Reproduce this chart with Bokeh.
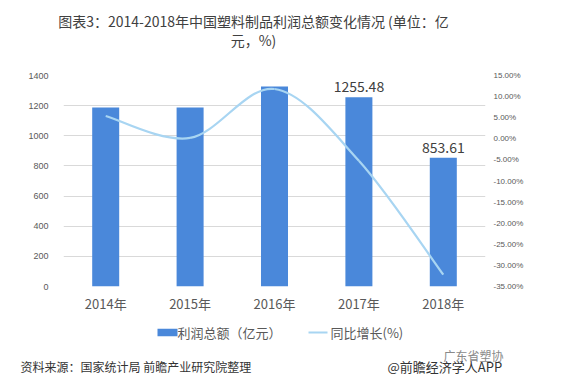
from bokeh.plotting import figure
from bokeh.layouts import column
from bokeh.models import Range1d, LinearAxis, FixedTicker, PrintfTickFormatter, ColumnDataSource
from bokeh.core.properties import value
from bokeh.embed import file_html
from bokeh.resources import INLINE

years = ["2014年", "2015年", "2016年", "2017年", "2018年"]
profit = [1188, 1187, 1327, 1255.48, 853.61]
growth = [5.4, 0.2, 11.8, -5.2, -32.2]
bar_labels = ["", "", "", "1255.48", "853.61"]
left_ticks = [0, 200, 400, 600, 800, 1000, 1200, 1400]
right_ticks = [15, 10, 5, 0, -5, -10, -15, -20, -25, -30, -35]
title_lines = ["图表3：2014-2018年中国塑料制品利润总额变化情况 (单位：亿", "元，%)"]
legend_labels = ["利润总额（亿元）", "同比增长(%)"]
source_text = "资料来源：国家统计局 前瞻产业研究院整理"
credit_text = "@前瞻经济学人APP"
mark_text = "广东省塑协"

FONT = "Noto Sans CJK SC"
BAR = "#4a88da"
LINE = "#a8d5f2"
W = 572


def no_align(f):
    try:
        f.frame_align = False
    except Exception:
        pass


def blank(h):
    f = figure(width=W, height=h, output_backend="svg", toolbar_location=None,
               x_range=Range1d(0, W), y_range=Range1d(0, h),
               min_border=0, min_border_left=0, min_border_right=0,
               min_border_top=0, min_border_bottom=0)
    f.axis.visible = False
    f.grid.visible = False
    f.outline_line_color = None
    f.background_fill_color = "white"
    f.border_fill_color = "white"
    no_align(f)
    return f


# ---- title ----
top = blank(68)
top.text(x=[253, 253], y=[47.3, 28.7], text=title_lines, text_align="center",
         text_baseline="middle", text_font=value(FONT), text_font_size="14px",
         text_color="#404040")

# ---- main chart ----
xs = [i + 0.5 for i in range(len(years))]
p = figure(width=W, height=250, output_backend="svg", toolbar_location=None,
           x_range=Range1d(0, len(years)), y_range=Range1d(0, 1400),
           min_border_left=63, min_border_right=87, min_border_top=7, min_border_bottom=32)
no_align(p)
p.outline_line_color = None
p.background_fill_color = "white"
p.border_fill_color = "white"
p.extra_y_ranges = {"pct": Range1d(-35, 15)}

p.xgrid.visible = False
p.ygrid.ticker = FixedTicker(ticks=left_ticks)
p.ygrid.grid_line_color = "#d9d9d9"

for ax in p.xaxis:
    ax.ticker = FixedTicker(ticks=xs)
    ax.major_label_overrides = {x: y for x, y in zip(xs, years)}
    ax.axis_line_color = None
    ax.major_tick_line_color = None
    ax.minor_tick_line_color = None
    ax.major_label_text_font = FONT
    ax.major_label_text_font_size = "13px"
    ax.major_label_text_color = "#595959"
    ax.major_label_standoff = 1

for ax in p.yaxis:
    ax.ticker = FixedTicker(ticks=left_ticks)
    ax.axis_line_color = None
    ax.major_tick_line_color = None
    ax.minor_tick_line_color = None
    ax.major_label_text_font = "Liberation Sans"
    ax.major_label_text_font_size = "9px"
    ax.major_label_text_color = "#595959"
    ax.major_label_standoff = 9

rax = LinearAxis(y_range_name="pct", ticker=FixedTicker(ticks=right_ticks),
                 formatter=PrintfTickFormatter(format="%.2f%%"))
rax.axis_line_color = None
rax.major_tick_line_color = None
rax.minor_tick_line_color = None
rax.major_label_text_font = "Liberation Sans"
rax.major_label_text_font_size = "8px"
rax.major_label_text_color = "#595959"
rax.major_label_standoff = 2
p.add_layout(rax, "right")

p.vbar(x=xs, top=profit, width=0.32, fill_color=BAR, line_color=None)

# smooth line (Catmull-Rom -> cubic Bezier control points)
n = len(xs)
x0, y0, x1, y1, cx0, cy0, cx1, cy1 = [], [], [], [], [], [], [], []
for i in range(n - 1):
    pm = max(i - 1, 0)
    pp = min(i + 2, n - 1)
    x0.append(xs[i]); y0.append(growth[i])
    x1.append(xs[i + 1]); y1.append(growth[i + 1])
    cx0.append(xs[i] + (xs[i + 1] - xs[pm]) / 6)
    cy0.append(growth[i] + (growth[i + 1] - growth[pm]) / 6)
    cx1.append(xs[i + 1] - (xs[pp] - xs[i]) / 6)
    cy1.append(growth[i + 1] - (growth[pp] - growth[i]) / 6)
p.bezier(x0=x0, y0=y0, x1=x1, y1=y1, cx0=cx0, cy0=cy0, cx1=cx1, cy1=cy1,
         line_color=LINE, line_width=2.2, y_range_name="pct")

lab_src = ColumnDataSource(dict(x=xs, y=profit, t=bar_labels))
p.text(x="x", y="y", text="t", source=lab_src, text_align="center", text_baseline="bottom",
       y_offset=-5, text_font=value(FONT), text_font_size="14px", text_color="#404040")

# ---- footer: legend + source ----
foot = blank(64)
foot.quad(left=[157], right=[177], bottom=[46.3], top=[53.7], fill_color=BAR, line_color=None)
foot.segment(x0=[308], y0=[50], x1=[327], y1=[50], line_color=LINE, line_width=2)
foot.text(x=[177, 330], y=[50, 50], text=legend_labels, text_align="left",
          text_baseline="middle", text_font=value(FONT), text_font_size="13px",
          text_color="#595959")
foot.text(x=[20], y=[16], text=[source_text], text_align="left", text_baseline="middle",
          text_font=value(FONT), text_font_size="12px", text_color="#333333")
foot.text(x=[443], y=[27], text=[mark_text], text_align="left", text_baseline="middle",
          text_font=value(FONT), text_font_size="12px", text_color="#8a8a8a")
foot.text(x=[387], y=[16], text=[credit_text], text_align="left", text_baseline="middle",
          text_font=value(FONT), text_font_size="13px", text_color="#333333")

layout = column(top, p, foot, spacing=0)
open("out.html", "w").write(file_html(layout, INLINE))
